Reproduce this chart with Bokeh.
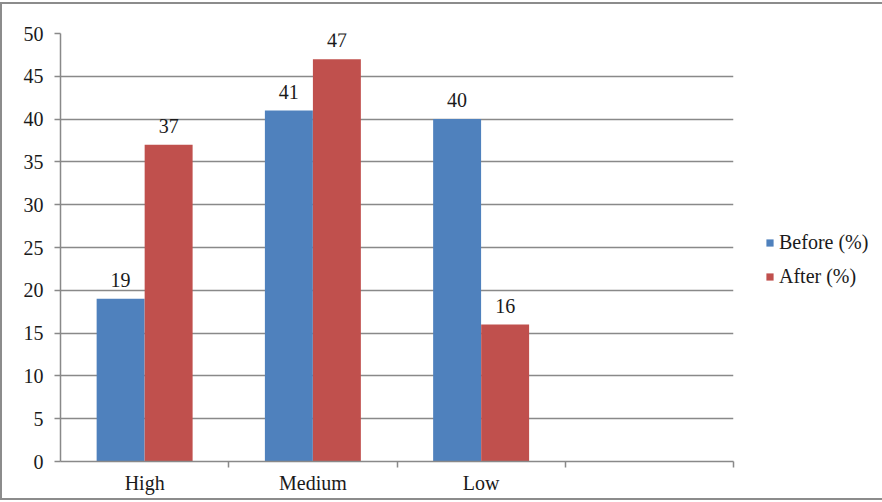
from bokeh.plotting import figure
from bokeh.models import ColumnDataSource, FixedTicker, Legend, LegendItem, Range1d
from bokeh.core.properties import value
from bokeh.embed import file_html
from bokeh.resources import INLINE

categories = ["High", "Medium", "Low"]
before = [19, 41, 40]
after = [37, 47, 16]
series_names = ["Before (%)", "After (%)"]
y_ticks = [0, 5, 10, 15, 20, 25, 30, 35, 40, 45, 50]

BLUE = "#4F81BD"
RED = "#C0504D"
GRAY = "#898989"
FONT = "Liberation Serif"
FS = "20px"

n_slots = 4
centers = [i + 0.5 for i in range(len(categories))]
bw = 0.285
off = 0.1427

src_b = ColumnDataSource(dict(x=[c - off for c in centers], top=before, lab=[str(v) for v in before]))
src_a = ColumnDataSource(dict(x=[c + off for c in centers], top=after, lab=[str(v) for v in after]))

p = figure(frame_width=673, frame_height=428, output_backend="svg", toolbar_location=None,
           x_range=Range1d(0, n_slots), y_range=Range1d(0, 50))
p.min_border_left = 58
p.min_border_top = 29
p.min_border_right = 149
p.min_border_bottom = 37
p.outline_line_color = None
p.background_fill_color = "white"
p.border_fill_color = "white"
p.styles = {"border": "2px solid #8c8c8c", "margin": "2px 0 0 0"}

rb = p.vbar(x="x", top="top", width=bw, source=src_b, fill_color=BLUE, line_color=None)
ra = p.vbar(x="x", top="top", width=bw, source=src_a, fill_color=RED, line_color=None)

for s in (src_b, src_a):
    p.text(x="x", y="top", text="lab", source=s, text_align="center", text_baseline="alphabetic",
           y_offset=-19, text_font=value(FONT), text_font_size=FS, text_color="#1a1a1a")

# x axis
p.xaxis.ticker = FixedTicker(ticks=centers, minor_ticks=list(range(1, n_slots + 1)))
p.xaxis.major_label_overrides = {c: name for c, name in zip(centers, categories)}
p.xaxis.major_tick_line_color = None
p.xaxis.minor_tick_line_color = GRAY
p.xaxis.minor_tick_line_width = 1.5
p.xaxis.minor_tick_out = 6
p.xaxis.minor_tick_in = 0
p.xaxis.axis_line_color = GRAY
p.xaxis.axis_line_width = 1.5
p.xaxis.major_label_text_font = FONT
p.xaxis.major_label_text_font_size = FS
p.xaxis.major_label_text_color = "#1a1a1a"
p.xaxis.major_label_standoff = 4

# y axis
p.yaxis.ticker = FixedTicker(ticks=y_ticks)
p.yaxis.minor_tick_line_color = None
p.yaxis.major_tick_line_color = GRAY
p.yaxis.major_tick_line_width = 1.5
p.yaxis.major_tick_out = 6
p.yaxis.major_tick_in = 0
p.yaxis.axis_line_color = GRAY
p.yaxis.axis_line_width = 1.5
p.yaxis.major_label_text_font = FONT
p.yaxis.major_label_text_font_size = FS
p.yaxis.major_label_text_color = "#1a1a1a"
p.yaxis.major_label_standoff = 11

p.xgrid.grid_line_color = None
p.ygrid.ticker = FixedTicker(ticks=y_ticks[1:])
p.ygrid.grid_line_color = GRAY
p.ygrid.grid_line_width = 1.5

legend = Legend(items=[LegendItem(label=series_names[0], renderers=[rb]),
                       LegendItem(label=series_names[1], renderers=[ra])],
                location=(32, 173))
legend.glyph_width = 9
legend.glyph_height = 9
legend.label_text_font = FONT
legend.label_text_font_size = FS
legend.label_text_color = "#1a1a1a"
legend.label_height = 20
legend.spacing = 11
legend.padding = 0
legend.margin = 0
legend.label_standoff = 5
legend.border_line_color = None
legend.background_fill_alpha = 0
p.add_layout(legend, "right")

open("out.html", "w").write(file_html(p, INLINE))
